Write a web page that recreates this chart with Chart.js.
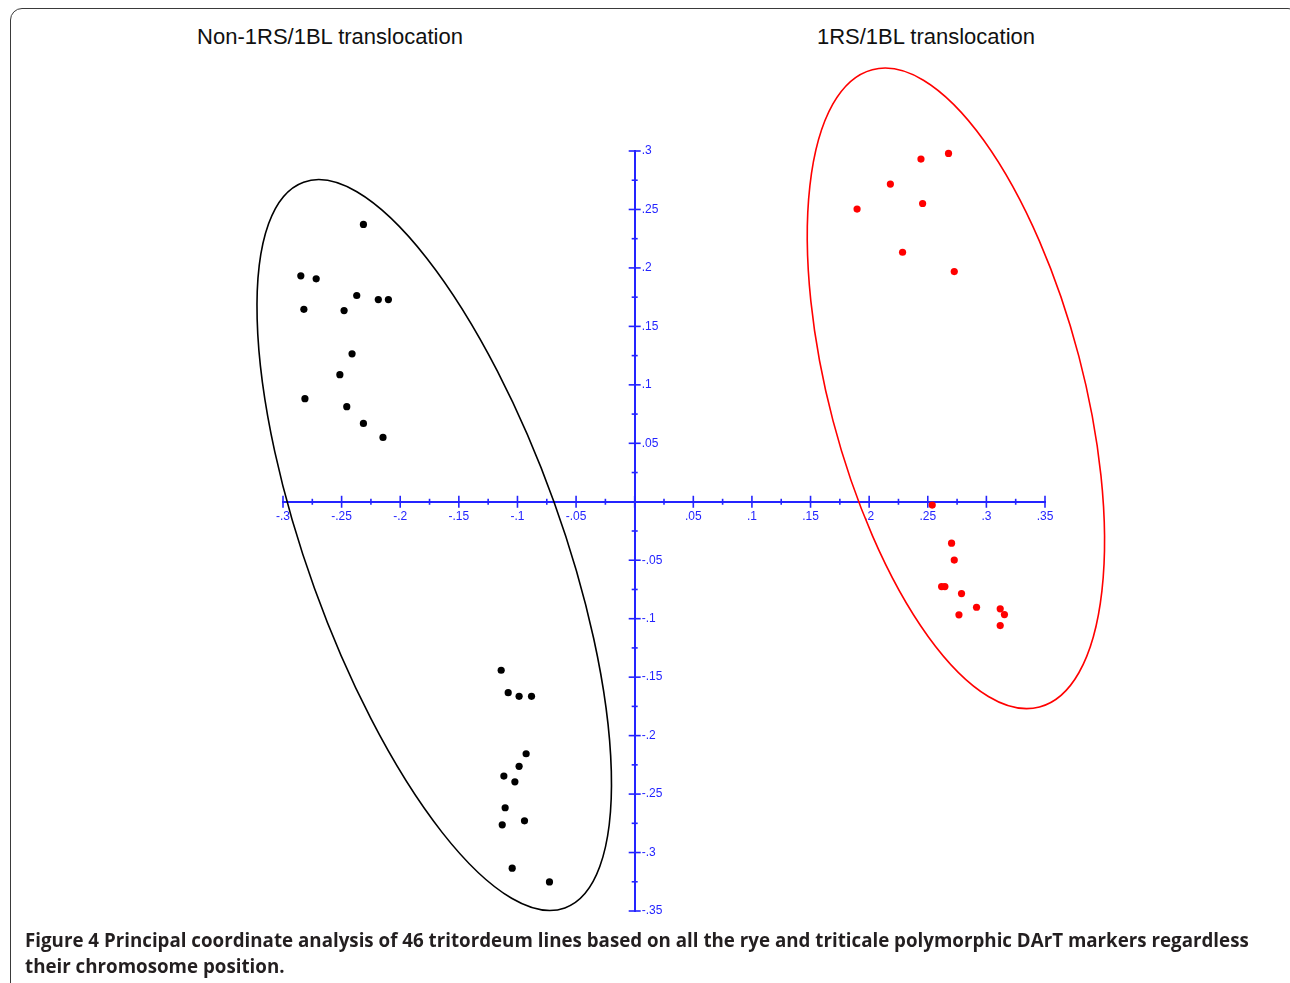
<!DOCTYPE html>
<html>
<head>
<meta charset="utf-8">
<title>Principal coordinate analysis</title>
<script src="https://cdn.jsdelivr.net/npm/chart.js@4.4.1/dist/chart.umd.min.js"></script>
<style>
  html, body { margin: 0; padding: 0; background: #fff; overflow: hidden; }
  body { width: 1290px; height: 983px; position: relative; }
  #frame {
    position: absolute; left: 10px; top: 8px; width: 1290px; height: 1000px;
    border: 1.5px solid #3a3a3a; border-radius: 12px; box-sizing: border-box;
  }
  #chart { position: absolute; left: 0; top: 0; }
  .title {
    position: absolute; top: 24px; width: 400px; text-align: center;
    font: 22px "Liberation Sans", Arial, sans-serif; color: #111; line-height: 26px;
  }
  .cap {
    position: absolute; left: 25px; white-space: nowrap; transform-origin: left center;
    font: bold 19px "Open Sans", "Noto Sans", sans-serif; color: #231f20; line-height: 26px;
  }
</style>
</head>
<body>
<div id="frame"></div>
<div class="title" style="left:130px">Non-1RS/1BL translocation</div>
<div class="title" style="left:726px">1RS/1BL translocation</div>
<canvas id="chart" width="1290" height="983"></canvas>
<div class="cap" id="cap1" style="top:927px">Figure 4 Principal coordinate analysis of 46 tritordeum lines based on all the rye and triticale polymorphic DArT markers regardless</div>
<div class="cap" id="cap2" style="top:953px">their chromosome position.</div>
<script>
// Non-1RS/1BL lines (black)
const nonX = [-0.2314, -0.2848, -0.2717, -0.2371, -0.2187, -0.2101, -0.2822, -0.2479, -0.2411, -0.2515, -0.2813, -0.2456, -0.2314, -0.2147,
              -0.1139, -0.1079, -0.0986, -0.0880, -0.0926, -0.0986, -0.1116, -0.1022, -0.1105, -0.1130, -0.0940, -0.1045, -0.0727];
const nonY = [0.2372, 0.1932, 0.1907, 0.1764, 0.1729, 0.1729, 0.1646, 0.1635, 0.1265, 0.1087, 0.0882, 0.0813, 0.0670, 0.0550,
              -0.1441, -0.1633, -0.1664, -0.1664, -0.2155, -0.2263, -0.2346, -0.2395, -0.2617, -0.2763, -0.2729, -0.3134, -0.3251];

// 1RS/1BL lines (red)
const transX = [0.2677, 0.2442, 0.2181, 0.2456, 0.1897, 0.2285, 0.2726,
                0.2538, 0.2703, 0.2726, 0.2618, 0.2646, 0.2788, 0.2916, 0.2766, 0.3118, 0.3154, 0.3118];
const transY = [0.2979, 0.2931, 0.2717, 0.2551, 0.2503, 0.2134, 0.1969,
                -0.0028, -0.0354, -0.0499, -0.0725, -0.0725, -0.0785, -0.0902, -0.0967, -0.0916, -0.0965, -0.1059];

// axis ticks
const xTicks = [-0.3, -0.25, -0.2, -0.15, -0.1, -0.05, 0, 0.05, 0.1, 0.15, 0.2, 0.25, 0.3, 0.35];
const xTickLabels = ['-.3', '-.25', '-.2', '-.15', '-.1', '-.05', '', '.05', '.1', '.15', '.2', '.25', '.3', '.35'];
const yTicks = [0.3, 0.25, 0.2, 0.15, 0.1, 0.05, 0, -0.05, -0.1, -0.15, -0.2, -0.25, -0.3, -0.35];
const yTickLabels = ['.3', '.25', '.2', '.15', '.1', '.05', '', '-.05', '-.1', '-.15', '-.2', '-.25', '-.3', '-.35'];

// group ellipses: centre, semi-axes (data units), tilt in degrees
const ellipseCx = [-0.171, 0.274];
const ellipseCy = [-0.037, 0.097];
const ellipseA = [0.329, 0.281];
const ellipseB = [0.1086, 0.1084];
const ellipseAngle = [70.2, 75.3];
const ellipseColor = ['#000000', '#ff0000'];

const AXIS_BLUE = '#2424ff';

const axesAndEllipses = {
  id: 'axesAndEllipses',
  beforeDatasetsDraw(chart) {
    const ctx = chart.ctx;
    const xs = chart.scales.x, ys = chart.scales.y;
    const ox = xs.getPixelForValue(0), oy = ys.getPixelForValue(0);

    ctx.save();
    ctx.strokeStyle = AXIS_BLUE;
    ctx.lineWidth = 1.6;
    // x ticks, major + minor
    xTicks.forEach((v, i) => {
      const px = xs.getPixelForValue(v);
      ctx.beginPath(); ctx.moveTo(px, oy - 6); ctx.lineTo(px, oy + 6); ctx.stroke();
      if (i < xTicks.length - 1) {
        const mx = xs.getPixelForValue((v + xTicks[i + 1]) / 2);
        ctx.beginPath(); ctx.moveTo(mx, oy - 3); ctx.lineTo(mx, oy + 3); ctx.stroke();
      }
    });
    // y ticks + labels
    ctx.fillStyle = AXIS_BLUE;
    ctx.font = '12px "Liberation Sans", Arial, sans-serif';
    ctx.textAlign = 'left';
    ctx.textBaseline = 'middle';
    yTicks.forEach((v, i) => {
      const py = ys.getPixelForValue(v);
      ctx.beginPath(); ctx.moveTo(ox - 6, py); ctx.lineTo(ox + 6, py); ctx.stroke();
      if (i < yTicks.length - 1) {
        const my = ys.getPixelForValue((v + yTicks[i + 1]) / 2);
        ctx.beginPath(); ctx.moveTo(ox - 3, my); ctx.lineTo(ox + 3, my); ctx.stroke();
      }
      if (yTickLabels[i]) ctx.fillText(yTickLabels[i], ox + 7, py);
    });

    // ellipses
    const unit = xs.getPixelForValue(1) - xs.getPixelForValue(0);
    ctx.lineWidth = 1.6;
    ellipseCx.forEach((cx, i) => {
      ctx.strokeStyle = ellipseColor[i];
      ctx.beginPath();
      ctx.ellipse(xs.getPixelForValue(cx), ys.getPixelForValue(ellipseCy[i]),
        ellipseA[i] * unit, ellipseB[i] * unit, ellipseAngle[i] * Math.PI / 180, 0, Math.PI * 2);
      ctx.stroke();
    });
    ctx.restore();
  }
};

new Chart(document.getElementById('chart'), {
  type: 'scatter',
  data: {
    datasets: [
      {
        label: 'Non-1RS/1BL translocation',
        data: nonX.map((x, i) => ({ x: x, y: nonY[i] })),
        backgroundColor: '#000000',
        borderWidth: 0,
        pointRadius: 3.6,
        clip: false
      },
      {
        label: '1RS/1BL translocation',
        data: transX.map((x, i) => ({ x: x, y: transY[i] })),
        backgroundColor: '#ff0000',
        borderWidth: 0,
        pointRadius: 3.6,
        clip: false
      }
    ]
  },
  options: {
    responsive: false,
    animation: false,
    layout: { padding: { left: 283, right: 245, top: 151, bottom: 72 } },
    plugins: { legend: { display: false }, tooltip: { enabled: false } },
    scales: {
      x: {
        type: 'linear',
        min: -0.3, max: 0.35,
        position: { y: 0 },
        afterFit: s => { s.height = 0; },
        afterBuildTicks: s => { s.ticks = xTicks.map(v => ({ value: v })); },
        grid: { display: false },
        border: { display: true, color: AXIS_BLUE, width: 2 },
        ticks: {
          color: AXIS_BLUE,
          padding: 0,
          maxRotation: 0,
          autoSkip: false,
          font: { family: '"Liberation Sans", Arial, sans-serif', size: 12 },
          callback: (v, i) => xTickLabels[i]
        }
      },
      y: {
        type: 'linear',
        min: -0.35, max: 0.3,
        position: { x: 0 },
        afterFit: s => { s.width = 0; },
        grid: { display: false },
        border: { display: true, color: AXIS_BLUE, width: 2 },
        ticks: { display: false }
      }
    }
  },
  plugins: [axesAndEllipses]
});

// fit caption lines to the printed width
const c1 = document.getElementById('cap1');
c1.style.transform = 'scaleX(' + (1224 / c1.scrollWidth) + ')';
document.getElementById('cap2').style.transform = c1.style.transform;
</script>
</body>
</html>
